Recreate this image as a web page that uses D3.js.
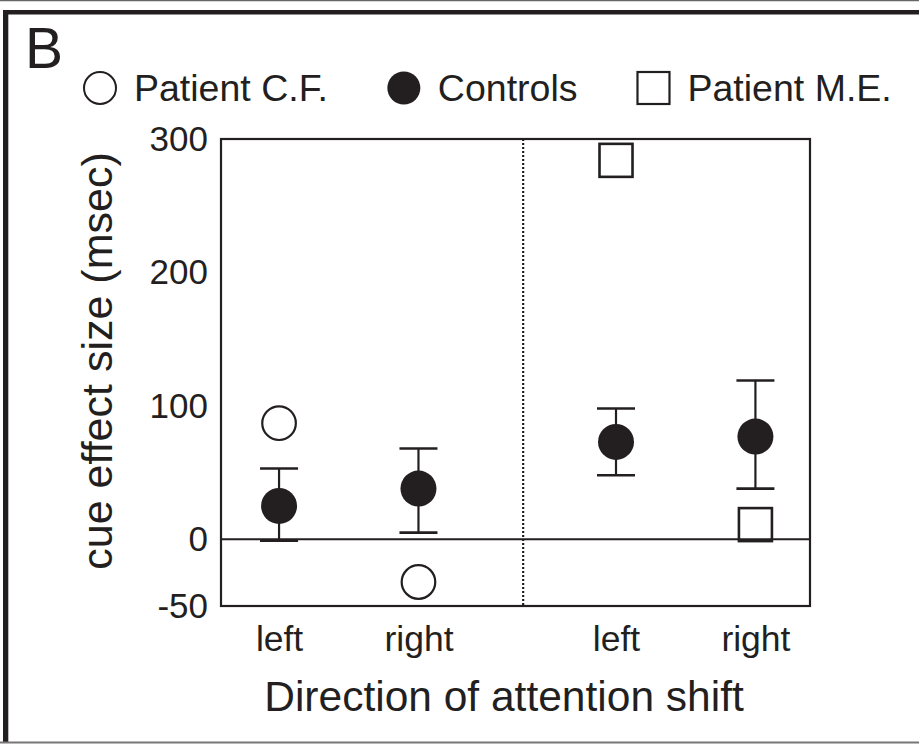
<!DOCTYPE html>
<html>
<head>
<meta charset="utf-8">
<script src="https://cdn.jsdelivr.net/npm/d3@7"></script>
<style>
  body { margin: 0; background: #fff; }
  svg { display: block; }
</style>
</head>
<body>
<div id="chart"></div>
<script>
// chart data
const panels = ["C.F.", "M.E."];
const directions = ["left", "right"];
const controlMean = [25, 38, 73, 77];
const controlHigh = [53, 68, 98, 119];
const controlLow = [-1, 5, 48, 38];
const patientCF = [87, -32];
const patientME = [284, 11];
const yTicks = [-50, 0, 100, 200, 300];
const legendLabels = ["Patient C.F.", "Controls", "Patient M.E."];
const panelLetter = "B";
const yTitle = "cue effect size (msec)";
const xTitle = "Direction of attention shift";

// container
const width = 919;
const height = 744;
const ink = "#231f20";
const font = "'Liberation Sans', Arial, Helvetica, sans-serif";
const plot = { left: 221, right: 810, top: 139, bottom: 606 };

const svg = d3.select("#chart")
  .append("svg")
    .attr("width", width)
    .attr("height", height)
    .style("font-family", font);

// outer frame of the figure
svg.append("line")
  .attr("x1", 0).attr("x2", width).attr("y1", 0.5).attr("y2", 0.5)
  .attr("stroke", "#666").attr("stroke-width", 1.5);
svg.append("rect")
  .attr("x", 3).attr("y", 10).attr("width", width - 3).attr("height", 4.5)
  .attr("fill", ink);
svg.append("rect")
  .attr("x", 3).attr("y", 10).attr("width", 5.3).attr("height", height - 12)
  .attr("fill", ink);
svg.append("line")
  .attr("x1", 0).attr("x2", width).attr("y1", 742.5).attr("y2", 742.5)
  .attr("stroke", "#777").attr("stroke-width", 2);

// scales
const y = d3.scaleLinear()
  .domain([-50, 300])
  .range([plot.bottom, plot.top]);

const xOuter = d3.scaleBand()
  .domain(panels)
  .range([plot.left, plot.right])
  .paddingInner(0.338)
  .paddingOuter(0.043)
  .align(0.56);

const xInner = d3.scalePoint()
  .domain(directions)
  .range([0, xOuter.bandwidth()])
  .padding(0.3);

const xPos = (panel, dir) => xOuter(panel) + xInner(dir);

const conditions = panels.flatMap((p, i) =>
  directions.map((d, j) => ({ panel: p, dir: d, k: i * directions.length + j })));

const controls = conditions.map((c) => ({
  ...c,
  mean: controlMean[c.k],
  high: controlHigh[c.k],
  low: controlLow[c.k]
}));
const cfPoints = directions.map((d, j) => ({ panel: panels[0], dir: d, value: patientCF[j] }));
const mePoints = directions.map((d, j) => ({ panel: panels[1], dir: d, value: patientME[j] }));

// zero line and panel divider
svg.append("line")
  .attr("x1", plot.left).attr("x2", plot.right)
  .attr("y1", y(0)).attr("y2", y(0))
  .attr("stroke", ink).attr("stroke-width", 2);

const dividerX = d3.interpolateNumber(xPos(panels[0], "right"), xPos(panels[1], "left"))(0.53);
svg.append("line")
  .attr("x1", dividerX).attr("x2", dividerX)
  .attr("y1", plot.top).attr("y2", plot.bottom)
  .attr("stroke", ink).attr("stroke-width", 2.2)
  .attr("stroke-dasharray", "2,2");

svg.append("rect")
  .attr("x", plot.left).attr("y", plot.top)
  .attr("width", plot.right - plot.left).attr("height", plot.bottom - plot.top)
  .attr("fill", "none").attr("stroke", ink).attr("stroke-width", 2.2);

// error bars for controls
const capHalf = 19;
const bars = svg.append("g")
  .selectAll("g")
  .data(controls)
  .join("g")
    .attr("stroke", ink);

bars.append("line")
  .attr("x1", (d) => xPos(d.panel, d.dir)).attr("x2", (d) => xPos(d.panel, d.dir))
  .attr("y1", (d) => y(d.low)).attr("y2", (d) => y(d.high))
  .attr("stroke-width", 2.2);

bars.selectAll(".cap")
  .data((d) => [d.low, d.high].map((v) => ({ x: xPos(d.panel, d.dir), v })))
  .join("line")
    .attr("class", "cap")
    .attr("x1", (d) => d.x - capHalf).attr("x2", (d) => d.x + capHalf)
    .attr("y1", (d) => y(d.v)).attr("y2", (d) => y(d.v))
    .attr("stroke-width", 2.6);

svg.append("g")
  .selectAll("circle")
  .data(controls)
  .join("circle")
    .attr("cx", (d) => xPos(d.panel, d.dir))
    .attr("cy", (d) => y(d.mean))
    .attr("r", 18)
    .attr("fill", ink);

// patient C.F.
svg.append("g")
  .selectAll("circle")
  .data(cfPoints)
  .join("circle")
    .attr("cx", (d) => xPos(d.panel, d.dir))
    .attr("cy", (d) => y(d.value))
    .attr("r", 16.8)
    .attr("fill", "#fff")
    .attr("stroke", ink)
    .attr("stroke-width", 2.2);

// patient M.E.
const sq = 33;
svg.append("g")
  .selectAll("rect")
  .data(mePoints)
  .join("rect")
    .attr("x", (d) => xPos(d.panel, d.dir) - sq / 2)
    .attr("y", (d) => y(d.value) - sq / 2)
    .attr("width", sq).attr("height", sq)
    .attr("fill", "none")
    .attr("stroke", ink)
    .attr("stroke-width", 2.6);

// y axis labels
const yAxis = svg.append("g")
  .attr("transform", `translate(${plot.left},0)`)
  .call(d3.axisLeft(y).tickValues(yTicks).tickSize(0).tickPadding(13).tickFormat((d) => String(d)));
yAxis.select(".domain").remove();
yAxis.attr("font-family", font).attr("font-size", 35);
yAxis.selectAll("text").attr("fill", ink);

// x axis labels, one axis per panel
panels.forEach((p) => {
  const g = svg.append("g")
    .attr("transform", `translate(${xOuter(p)},${plot.bottom})`)
    .call(d3.axisBottom(xInner).tickSize(0).tickPadding(20));
  g.select(".domain").remove();
  g.attr("font-family", font).attr("font-size", 35.5);
  g.selectAll("text").attr("fill", ink);
});

// titles
svg.append("text")
  .attr("x", 504).attr("y", 711)
  .attr("text-anchor", "middle")
  .attr("font-size", 42.5)
  .attr("fill", ink)
  .text(xTitle);

svg.append("text")
  .attr("transform", "translate(112,361) rotate(-90)")
  .attr("text-anchor", "middle")
  .attr("font-size", 43)
  .attr("fill", ink)
  .text(yTitle);

svg.append("text")
  .attr("x", 25).attr("y", 68)
  .attr("font-size", 57)
  .attr("fill", ink)
  .text(panelLetter);

// legend
const legend = svg.append("g").attr("transform", "translate(0,88)");
const markers = [
  (g) => g.append("circle").attr("r", 16).attr("fill", "#fff").attr("stroke", ink).attr("stroke-width", 2),
  (g) => g.append("circle").attr("r", 16.5).attr("fill", ink),
  (g) => g.append("rect").attr("x", -16).attr("y", -16).attr("width", 32).attr("height", 32)
          .attr("fill", "#fff").attr("stroke", ink).attr("stroke-width", 2.2)
];
let cursor = 100;
legendLabels.forEach((label, i) => {
  const item = legend.append("g").attr("transform", `translate(${cursor},0)`);
  markers[i](item);
  const t = item.append("text")
    .attr("x", 34).attr("y", 13)
    .attr("font-size", 37.5)
    .attr("fill", ink)
    .text(label);
  cursor += 34 + t.node().getComputedTextLength() + 76;
});
</script>
</body>
</html>
